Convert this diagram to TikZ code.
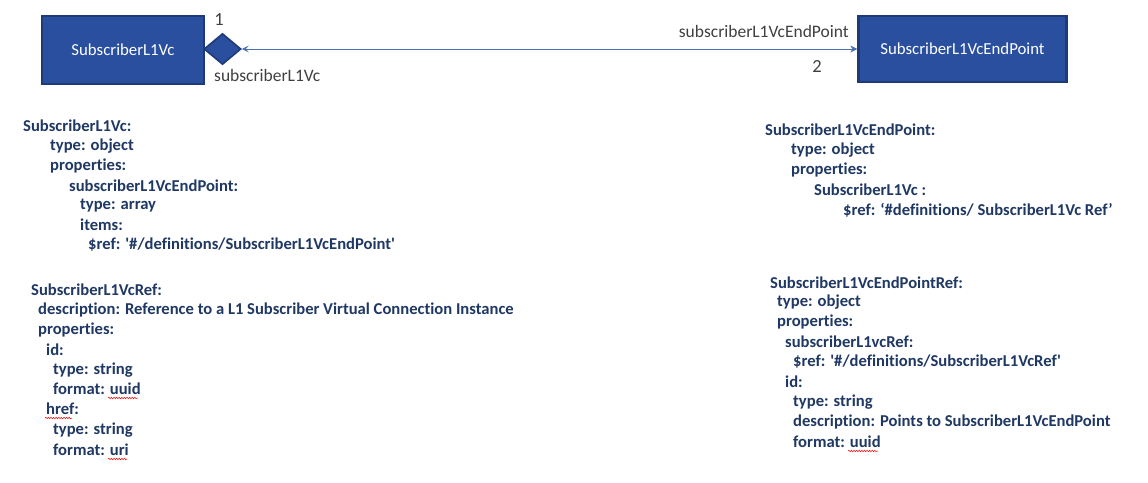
\documentclass[tikz,border=0pt]{standalone}
\usepackage{fontspec}
\setmainfont{Carlito}[Ligatures={NoCommon,TeXOff}]
\usetikzlibrary{shapes.geometric,arrows.meta,decorations.pathmorphing}
\definecolor{boxfill}{HTML}{2A4F9F}
\definecolor{boxline}{HTML}{1F3A78}
\definecolor{code}{HTML}{1F3864}
\definecolor{lbl}{HTML}{404040}
\definecolor{conn}{HTML}{4A6FB5}
\tikzset{
  classbox/.style={draw=boxline,line width=2.2pt,fill=boxfill,text=white,font=\fontsize{16.8}{18}\selectfont,inner sep=0pt},
  cl/.style={anchor=west,text=code,font=\bfseries\fontsize{16.6}{18}\selectfont,inner sep=0pt},
  rl/.style={text=lbl,font=\fontsize{17.5}{20}\selectfont,inner sep=0pt},
  spell/.style={draw=red,line width=0.5pt,decorate,decoration={snake,amplitude=0.7pt,segment length=2.6pt}}
}
\begin{document}
\begin{tikzpicture}[x=1pt,y=-1pt]
\useasboundingbox[fill=white] (0,0) rectangle (1148,482);
\node[classbox,minimum width=162,minimum height=68] (a) at (123,50) {SubscriberL1Vc};
\node[classbox,minimum width=208,minimum height=66] (b) at (962.5,49) {SubscriberL1VcEndPoint};
\node[diamond,draw=boxline,line width=1.6pt,fill=boxfill,minimum width=37,minimum height=31,inner sep=0pt] (d) at (222.5,49) {};
\draw[conn,line width=0.9pt,{Stealth[length=7pt,width=7pt,inset=3pt]}-{Stealth[length=7pt,width=7pt,inset=2pt]}] (d.east) -- (b.west);
\node[rl,font=\fontsize{18.5}{20}\selectfont] (m1) at (219,20) {1};
\node[rl,anchor=west] (n1) at (214,75) {subscriberL1Vc};
\node[rl,anchor=east] (n2) at (849,31) {subscriberL1VcEndPoint};
\node[rl,font=\fontsize{18.5}{20}\selectfont] (m2) at (817,66) {2};
% block 1
\node[cl] (p1) at (23,126) {SubscriberL1Vc:};
\node[cl] (p2) at (50,146) {type: object};
\node[cl] (p3) at (50,166) {properties:};
\node[cl] (p4) at (69,186) {subscriberL1VcEndPoint:};
\node[cl] (p5) at (80,206) {type: array};
\node[cl] (p6) at (80,225) {items:};
\node[cl] (p7) at (88,245) {\$ref: '\#/definitions/SubscriberL1VcEndPoint'};
% block 2
\node[cl] (q1) at (765,130) {SubscriberL1VcEndPoint:};
\node[cl] (q2) at (791,150) {type: object};
\node[cl] (q3) at (791,170) {properties:};
\node[cl] (q4) at (814,190) {SubscriberL1Vc :};
\node[cl] (q5) at (843,210) {\$ref: ‘\#definitions/ SubscriberL1Vc Ref’};
% block 3
\node[cl] (r1) at (31,290) {SubscriberL1VcRef:};
\node[cl] (r2) at (38,310) {description: Reference to a L1 Subscriber Virtual Connection Instance};
\node[cl] (r3) at (38,330) {properties:};
\node[cl] (r4) at (46,350) {id:};
\node[cl] (r5) at (53,370) {type: string};
\node[cl] (r6) at (53,389) {format: uuid};
\node[cl] (r7) at (46,409) {href:};
\node[cl] (r8) at (53,430) {type: string};
\node[cl] (r9) at (53,450) {format: uri};
% block 4
\node[cl] (s1) at (770,283) {SubscriberL1VcEndPointRef:};
\node[cl] (s2) at (777,302) {type: object};
\node[cl] (s3) at (777,322) {properties:};
\node[cl] (s4) at (785,342) {subscriberL1vcRef:};
\node[cl] (s5) at (793,362) {\$ref: '\#/definitions/SubscriberL1VcRef'};
\node[cl] (s6) at (785,382) {id:};
\node[cl] (s7) at (793,402) {type: string};
\node[cl] (s8) at (793,422) {description: Points to SubscriberL1VcEndPoint};
\node[cl] (s9) at (793,442) {format: uuid};
% spell-check marks
\draw[spell] (108,398) -- (138,398);
\draw[spell] (45,418) -- (72,418);
\draw[spell] (108,459) -- (127,459);
\draw[spell] (848,451) -- (878,451);
\end{tikzpicture}
\end{document}
